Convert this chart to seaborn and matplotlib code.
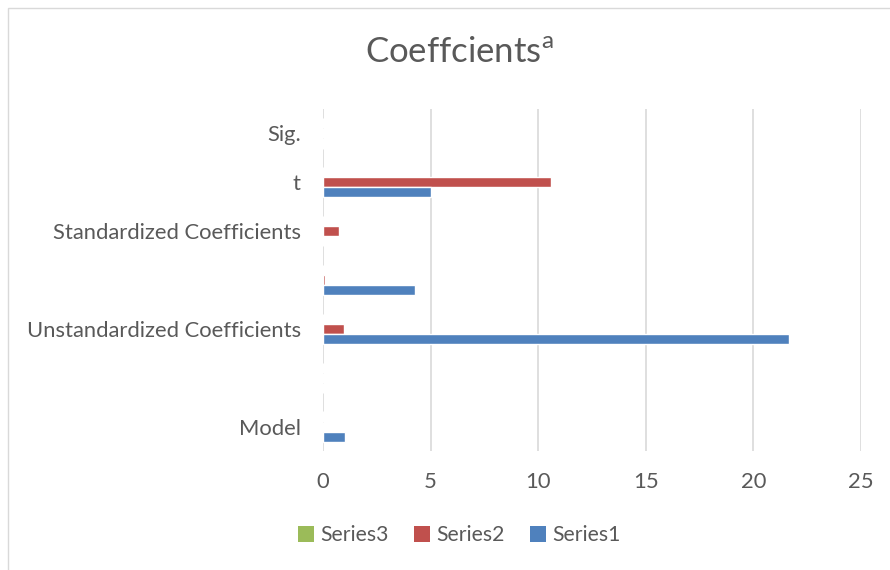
import matplotlib
matplotlib.use("Agg")
import matplotlib.pyplot as plt
import matplotlib.patches as mpatches
from matplotlib.lines import Line2D
import seaborn as sns
import pandas as pd

categories = ["Sig.", "t", "Standardized Coefficients", "  ",
              "Unstandardized Coefficients", " ", "Model"]
series1 = [0, 5.02, 0, 4.28, 21.65, 0, 1.0]
series2 = [0, 10.6, 0.74, 0.08, 0.98, 0, 0]
series3 = [0, 0, 0, 0, 0, 0, 0]
series_names = ["Series3", "Series2", "Series1"]
x_ticks = [0, 5, 10, 15, 20, 25]

rows = []
for name, vals in zip(["Series1", "Series2", "Series3"], [series1, series2, series3]):
    for c, v in zip(categories, vals):
        rows.append({"cat": c, "series": name, "value": v})
df = pd.DataFrame(rows)

sns.set_theme(style="white")
plt.rcParams['font.family'] = ['Lato', 'DejaVu Sans']
grey = "#595959"

fig = plt.figure(figsize=(8.9, 5.7), dpi=100)
ax = fig.add_axes([323/890, 1-451/570, (861-323)/890, (451-109)/570])

palette = {"Series1": "#4F81BD", "Series2": "#C0504D", "Series3": "#9BBB59"}
sns.barplot(data=df, y="cat", x="value", hue="series", order=categories,
            hue_order=series_names, palette=palette, orient="h", width=0.62,
            saturation=1, ax=ax, legend=False)

ax.set_xlim(0, 25)
ax.set_xticks(x_ticks)
ax.set_xlabel("")
ax.set_ylabel("")
ax.grid(axis="x", color="#d9d9d9", linewidth=1.2)
ax.set_axisbelow(True)
for s in ax.spines.values():
    s.set_visible(False)
ax.tick_params(axis="both", length=0, colors=grey, labelsize=15.8)
ax.tick_params(axis="x", pad=15)
ax.tick_params(axis="y", pad=16)

handles = [Line2D([], [], marker="s", linestyle="", markersize=11.5,
                  markerfacecolor=palette[n], markeredgewidth=0) for n in series_names]
fig.legend(handles, series_names, loc="center", bbox_to_anchor=(459/890, 1-535/570),
           ncol=3, frameon=False, fontsize=15.2, handlelength=0.75,
           handletextpad=0.3, columnspacing=1.2, labelcolor=grey)

fig.text(459/890, 1-53/570, r"Coeffcients$^{\mathregular{a}}$", ha="center", va="center",
         fontsize=25, color=grey)

fig.patches.append(mpatches.Rectangle((8/890, -0.1), 1.2, (570-8)/570 + 0.1,
                                      transform=fig.transFigure, fill=False,
                                      edgecolor="#d9d9d9", linewidth=1))

fig.savefig("out.png", dpi=100)
